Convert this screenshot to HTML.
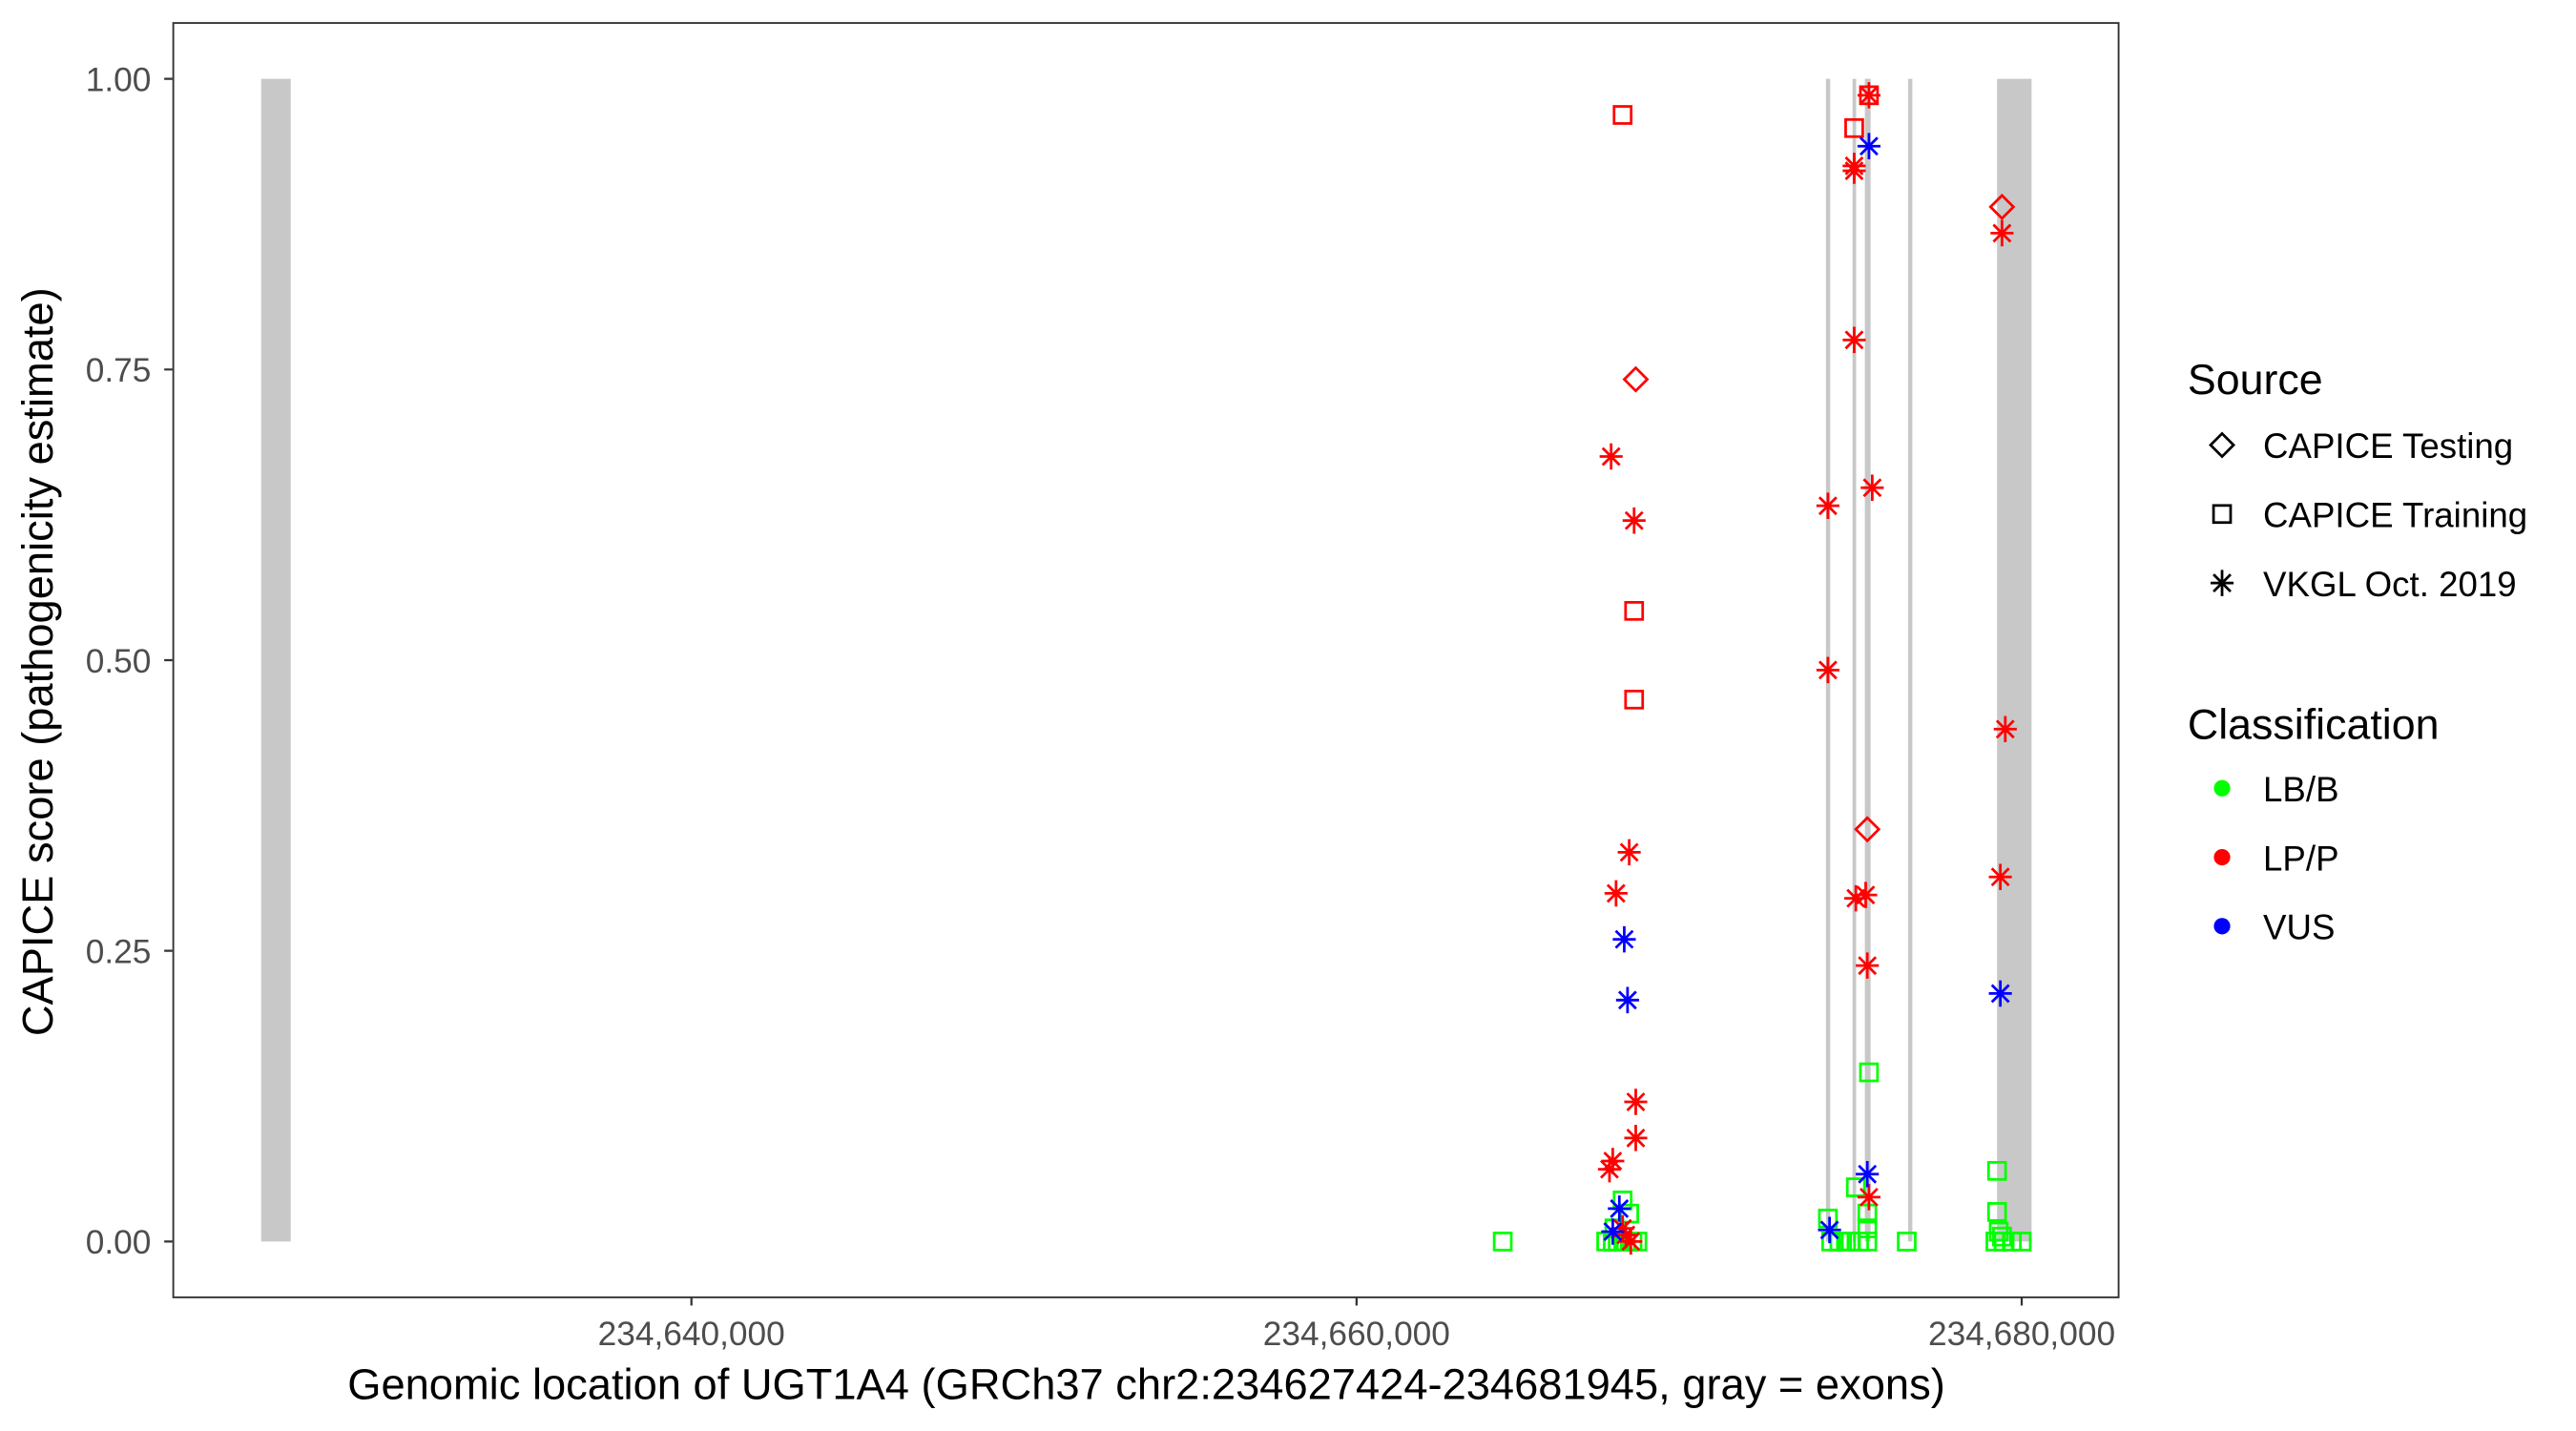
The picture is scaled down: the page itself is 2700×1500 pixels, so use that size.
<!DOCTYPE html>
<html><head><meta charset="utf-8"><style>html,body{margin:0;padding:0;background:#fff}svg{display:block}</style></head>
<body>
<svg width="2700" height="1500" viewBox="0 0 1568.5 871.4" xmlns="http://www.w3.org/2000/svg" font-family="Liberation Sans, Arial, sans-serif">
<defs>
<g id="sq"><rect x="-5.2" y="-5.2" width="10.4" height="10.4" fill="none" stroke-width="1.6"/></g>
<g id="dm"><path d="M0,-7 L7,0 L0,7 L-7,0 Z" fill="none" stroke-width="1.6"/></g>
<g id="as" stroke-width="1.6"><path d="M0,-8 V8 M-7,0 H7 M-5.2,-5.2 L5.2,5.2 M-5.2,5.2 L5.2,-5.2"/></g>
</defs>
<rect width="1570" height="872" fill="#fff"/>
<g fill="#c8c8c8">
<rect x="159" y="48" width="18" height="708"/>
<rect x="1111.8" y="48" width="2.6" height="708"/>
<rect x="1128" y="48" width="2.2" height="708"/>
<rect x="1135.5" y="48" width="3.5" height="708"/>
<rect x="1161.8" y="48" width="2.6" height="708"/>
<rect x="1216" y="48" width="21" height="708"/>
</g>
<g stroke="#00ff00">
<use href="#sq" x="915" y="756"/>
<use href="#sq" x="988" y="731"/><use href="#sq" x="992" y="739"/><use href="#sq" x="983" y="748"/>
<use href="#sq" x="978" y="756"/><use href="#sq" x="982" y="756"/><use href="#sq" x="985" y="756"/><use href="#sq" x="990" y="756"/><use href="#sq" x="994" y="756"/><use href="#sq" x="997" y="756"/>
<use href="#sq" x="1138" y="653"/><use href="#sq" x="1130" y="723"/><use href="#sq" x="1113" y="742"/><use href="#sq" x="1137" y="739"/><use href="#sq" x="1137" y="748"/>
<use href="#sq" x="1115" y="756"/><use href="#sq" x="1120" y="756"/><use href="#sq" x="1124" y="756"/><use href="#sq" x="1127" y="756"/><use href="#sq" x="1132" y="756"/><use href="#sq" x="1137" y="756"/>
<use href="#sq" x="1161" y="756"/>
<use href="#sq" x="1216" y="713"/><use href="#sq" x="1216" y="738"/><use href="#sq" x="1217" y="750"/><use href="#sq" x="1219" y="753"/>
<use href="#sq" x="1215" y="756"/><use href="#sq" x="1220" y="756"/><use href="#sq" x="1225" y="756"/><use href="#sq" x="1231" y="756"/>
</g>
<g stroke="#ff0000">
<use href="#sq" x="988" y="70"/><use href="#dm" x="996" y="231"/>
<use href="#as" x="981" y="278"/><use href="#as" x="995" y="317"/>
<use href="#sq" x="995" y="372"/><use href="#sq" x="995" y="426"/>
<use href="#as" x="992" y="519"/><use href="#as" x="984" y="544"/>
<use href="#as" x="996" y="671"/><use href="#as" x="996" y="693"/><use href="#as" x="982" y="707"/><use href="#as" x="980" y="712"/>
<use href="#as" x="988" y="748"/><use href="#as" x="990" y="752"/><use href="#as" x="993" y="756"/>
<use href="#sq" x="1138" y="58"/><use href="#as" x="1138" y="58"/><use href="#sq" x="1129" y="78"/>
<use href="#as" x="1129" y="101"/><use href="#as" x="1129" y="104"/><use href="#as" x="1129" y="207"/>
<use href="#as" x="1113" y="308"/><use href="#as" x="1140" y="297"/><use href="#as" x="1113" y="408"/>
<use href="#dm" x="1137" y="505"/>
<use href="#as" x="1136" y="545"/><use href="#as" x="1130" y="547"/><use href="#as" x="1137" y="588"/>
<use href="#as" x="1138" y="729"/>
<use href="#dm" x="1219" y="126"/><use href="#as" x="1219" y="142"/>
<use href="#as" x="1221" y="444"/><use href="#as" x="1218" y="534"/>
</g>
<g stroke="#0000ff">
<use href="#as" x="989" y="572"/><use href="#as" x="991" y="609"/>
<use href="#as" x="986" y="736"/><use href="#as" x="982" y="750"/>
<use href="#as" x="1138" y="89"/><use href="#as" x="1137" y="715"/><use href="#as" x="1114" y="749"/>
<use href="#as" x="1218" y="605"/>
</g>
<rect x="105.5" y="14" width="1184.5" height="776" fill="none" stroke="#333" stroke-width="1.1"/>
<g stroke="#333" stroke-width="1.3">
<path d="M100,48H105 M100,225H105 M100,402H105 M100,579H105 M100,756H105"/>
<path d="M421,790V795 M826,790V795 M1231,790V795"/>
</g>
<g fill="#4d4d4d" font-size="20.5" text-anchor="end">
<text x="92" y="55.5">1.00</text><text x="92" y="232.5">0.75</text><text x="92" y="409.5">0.50</text><text x="92" y="586.5">0.25</text><text x="92" y="763.5">0.00</text>
</g>
<g fill="#4d4d4d" font-size="20.5" text-anchor="middle">
<text x="421" y="819">234,640,000</text><text x="826" y="819">234,660,000</text><text x="1231" y="819">234,680,000</text>
</g>
<text x="698" y="852" font-size="26.3" text-anchor="middle" fill="#000">Genomic location of UGT1A4 (GRCh37 chr2:234627424-234681945, gray = exons)</text>
<text transform="translate(32,403) rotate(-90)" font-size="26.3" text-anchor="middle" fill="#000">CAPICE score (pathogenicity estimate)</text>
<text x="1332" y="240" font-size="26" fill="#000">Source</text>
<g stroke="#000"><use href="#dm" x="1353" y="271"/><use href="#sq" x="1353" y="313"/><use href="#as" x="1353" y="355"/></g>
<g font-size="21.3" fill="#000">
<text x="1378" y="279">CAPICE Testing</text><text x="1378" y="321">CAPICE Training</text><text x="1378" y="363">VKGL Oct. 2019</text>
</g>
<text x="1332" y="450" font-size="26" fill="#000">Classification</text>
<circle cx="1353" cy="480" r="5" fill="#00ff00"/><circle cx="1353" cy="522" r="5" fill="#ff0000"/><circle cx="1353" cy="564" r="5" fill="#0000ff"/>
<g font-size="21.3" fill="#000">
<text x="1378" y="488">LB/B</text><text x="1378" y="530">LP/P</text><text x="1378" y="572">VUS</text>
</g>
</svg>
</body></html>
